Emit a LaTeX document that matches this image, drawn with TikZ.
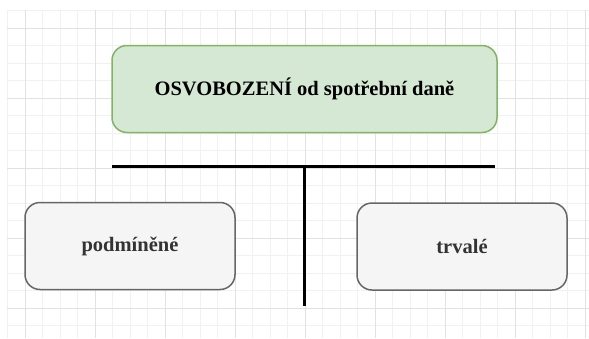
\documentclass[tikz,border=0pt]{standalone}
\usepackage{fontspec}
\setmainfont{Liberation Serif}
\usetikzlibrary{positioning}

\definecolor{gridminor}{HTML}{F1F1F1}
\definecolor{gridmajor}{HTML}{E2E2E2}
\definecolor{greenfill}{HTML}{D5E8D4}
\definecolor{greenline}{HTML}{82B366}
\definecolor{grayfill}{HTML}{F5F5F5}
\definecolor{grayline}{HTML}{666666}
\definecolor{graytext}{HTML}{333333}

\begin{document}
\begin{tikzpicture}
                [x=1pt,y=-1pt,
                 box/.style={rectangle,rounded corners=15pt,line width=1.5pt,
                             minimum width=210pt,minimum height=87pt,
                             font=\bfseries\fontsize{20.5}{24}\selectfont},
                 exempt/.style={box,fill=greenfill,draw=greenline,minimum width=385pt,text=black},
                 kind/.style={box,fill=grayfill,draw=grayline,text=graytext},
                 bar/.style={line width=3pt}]

                \useasboundingbox[fill=white] (0,0) rectangle (589,338);

                % grid
                \foreach \gx in {7.5,25,...,589} \draw[gridminor,line width=1pt] (\gx,10) -- (\gx,338);
                \foreach \gy in {10.5,28,...,338} \draw[gridminor,line width=1pt] (7,\gy) -- (589,\gy);
                \foreach \gx in {25,95,...,589} \draw[gridmajor,line width=1pt] (\gx,10) -- (\gx,338);
                \foreach \gy in {28,98,...,338} \draw[gridmajor,line width=1pt] (7,\gy) -- (589,\gy);

                \node[exempt] (exemption) at (304.5,89)  {OSVOBOZENÍ od spotřební daně};

                \node[kind]   (conditional) at (130,246)   {podmíněné};
                \node[kind]   (permanent)   at (462,246.5) {trvalé};

                \coordinate (bar left)  at (112,166.5);
                \coordinate (bar right) at (495,166.5);
                \coordinate (bar mid)   at (304,166.5);
                \coordinate (bar foot)  at (304,306);

                \draw[bar] (bar left) -- (bar right);
                \draw[bar] (bar mid) -- (bar foot);

            \end{tikzpicture}
\end{document}
